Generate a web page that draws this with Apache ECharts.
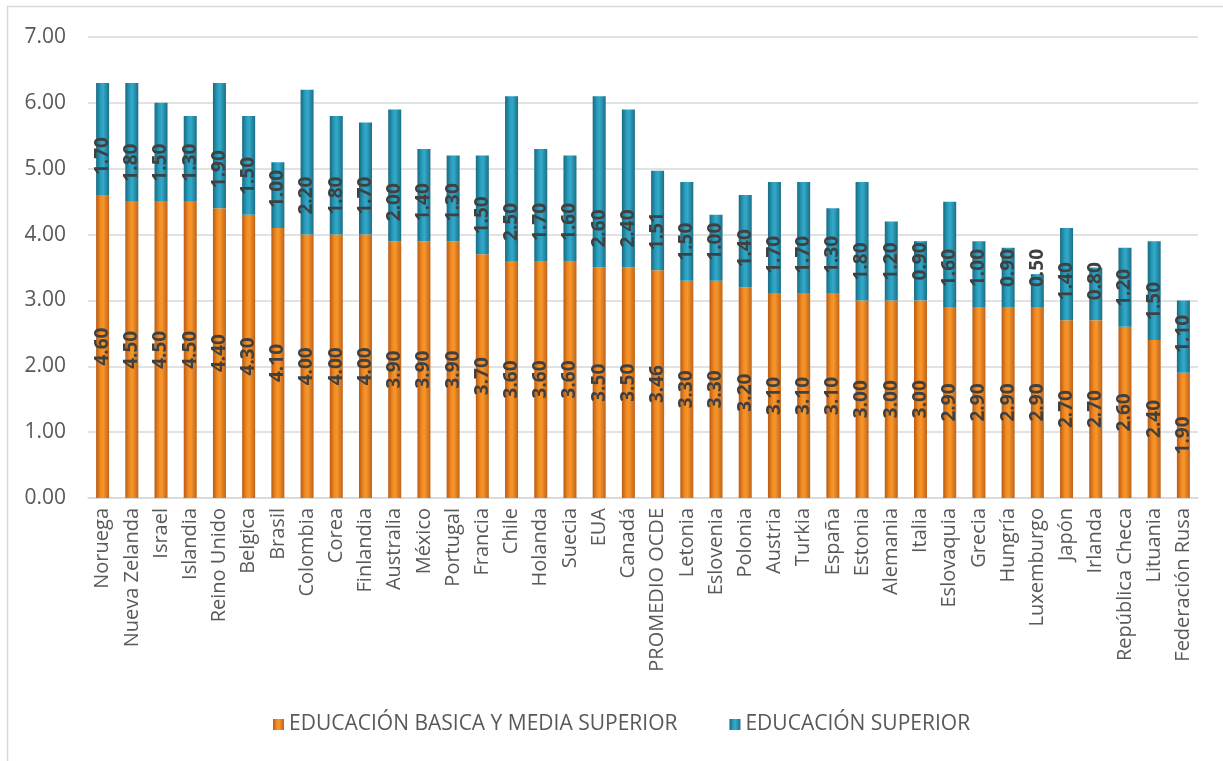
<!DOCTYPE html>
<html><head><meta charset="utf-8">
<script src="https://cdn.jsdelivr.net/npm/echarts@6/dist/echarts.min.js"></script>
<style>html,body{margin:0;padding:0;background:#fff}#c{width:1223px;height:761px}</style>
</head><body><div id="c"></div>
<script>
const categories = ["Noruega","Nueva Zelanda","Israel","Islandia","Reino Unido","Belgica","Brasil","Colombia","Corea","Finlandia","Australia","México","Portugal","Francia","Chile","Holanda","Suecia","EUA","Canadá","PROMEDIO OCDE","Letonia","Eslovenia","Polonia","Austria","Turkia","España","Estonia","Alemania","Italia","Eslovaquia","Grecia","Hungría","Luxemburgo","Japón","Irlanda","República Checa","Lituania","Federación Rusa"];
const basicaMedia = [4.6,4.5,4.5,4.5,4.4,4.3,4.1,4.0,4.0,4.0,3.9,3.9,3.9,3.7,3.6,3.6,3.6,3.5,3.5,3.46,3.3,3.3,3.2,3.1,3.1,3.1,3.0,3.0,3.0,2.9,2.9,2.9,2.9,2.7,2.7,2.6,2.4,1.9];
const superior = [1.7,1.8,1.5,1.3,1.9,1.5,1.0,2.2,1.8,1.7,2.0,1.4,1.3,1.5,2.5,1.7,1.6,2.6,2.4,1.51,1.5,1.0,1.4,1.7,1.7,1.3,1.8,1.2,0.9,1.6,1.0,0.9,0.5,1.4,0.8,1.2,1.5,1.1];
const seriesNames = ["EDUCACIÓN BASICA Y MEDIA SUPERIOR","EDUCACIÓN SUPERIOR"];
const yTicks = [0,1,2,3,4,5,6,7];

const FONT = "'Open Sans', 'Noto Sans', sans-serif";
const orangeGrad = new echarts.graphic.LinearGradient(0,0,1,0,[
  {offset:0,color:'#b85a14'},{offset:0.35,color:'#f28c22'},{offset:0.55,color:'#f7962a'},{offset:1,color:'#c0631a'}]);
const blueGrad = new echarts.graphic.LinearGradient(0,0,1,0,[
  {offset:0,color:'#166a80'},{offset:0.35,color:'#2a9dbd'},{offset:0.55,color:'#33a9c9'},{offset:1,color:'#1a6f86'}]);

const chart = echarts.init(document.getElementById('c'), null, {renderer:'canvas'});
chart.setOption({
  backgroundColor:'#ffffff',
  animation:false,
  graphic:[{type:'rect',shape:{x:7.5,y:6.5,width:1230,height:770},style:{fill:null,stroke:'#d9d9d9',lineWidth:1.5},silent:true}],
  grid:{left:88,right:25,top:37,bottom:263,containLabel:false},
  legend:{
    data:seriesNames, bottom:21, left:268, itemGap:52, itemWidth:11, itemHeight:11, icon:'rect',
    textStyle:{color:'#595959',fontSize:21,fontFamily:FONT}
  },
  xAxis:{
    type:'category', data:categories,
    axisLine:{lineStyle:{color:'#d9d9d9',width:1.5}}, axisTick:{show:false},
    axisLabel:{interval:0,rotate:90,color:'#595959',fontSize:20,fontFamily:FONT,margin:10}
  },
  yAxis:{
    type:'value', min:0, max:7, interval:1,
    axisLine:{show:false}, axisTick:{show:false},
    axisLabel:{color:'#595959',fontSize:21,fontFamily:FONT,margin:22,formatter:v=>v.toFixed(2)},
    splitLine:{lineStyle:{color:'#d9d9d9',width:1.5}}
  },
  series:[
    {name:seriesNames[0],type:'bar',stack:'t',data:basicaMedia,barWidth:13,
     itemStyle:{color:orangeGrad},
     label:{show:true,position:'inside',rotate:90,color:'#404040',fontSize:19,fontWeight:'bold',fontFamily:FONT,
            formatter:p=>p.value.toFixed(2)}},
    {name:seriesNames[1],type:'bar',stack:'t',data:superior,barWidth:13,
     itemStyle:{color:blueGrad},
     label:{show:true,position:['50%','100%'],offset:[39,0],align:'center',verticalAlign:'middle',rotate:90,
            color:'#404040',fontSize:19,fontWeight:'bold',fontFamily:FONT,formatter:p=>p.value.toFixed(2)}}
  ]
});
</script></body></html>
